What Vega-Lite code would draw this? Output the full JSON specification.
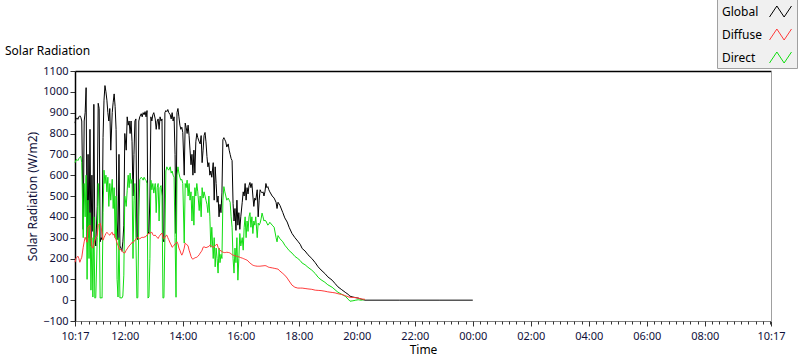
{
"$schema":"https://vega.github.io/schema/vega-lite/v6.json",
"width":696,"height":250,
"autosize":"none",
"padding":{"left":75,"top":71,"right":29,"bottom":40},
"background":"white",
"title":{"text":"Solar Radiation","anchor":"start","frame":"group","dx":-70,"dy":61,"offset":0,"fontSize":12,"fontWeight":"normal","color":"#000000","font":"Noto Sans"},
"data":{"values":[
{"time":617,"Global":850,"Diffuse":182,"Direct":660},
{"time":619,"Global":870,"Diffuse":200,"Direct":672},
{"time":621,"Global":875,"Diffuse":206,"Direct":675},
{"time":623,"Global":868,"Diffuse":211,"Direct":670},
{"time":625,"Global":880,"Diffuse":200,"Direct":680},
{"time":627,"Global":885,"Diffuse":182,"Direct":686},
{"time":629,"Global":878,"Diffuse":195,"Direct":690},
{"time":631,"Global":860,"Diffuse":206,"Direct":660},
{"time":634,"Global":340,"Diffuse":254,"Direct":300},
{"time":636,"Global":860,"Diffuse":280,"Direct":560},
{"time":638,"Global":900,"Diffuse":302,"Direct":400},
{"time":640,"Global":1020,"Diffuse":290,"Direct":600},
{"time":642,"Global":280,"Diffuse":278,"Direct":100},
{"time":644,"Global":700,"Diffuse":350,"Direct":480},
{"time":646,"Global":300,"Diffuse":355,"Direct":200},
{"time":648,"Global":820,"Diffuse":360,"Direct":420},
{"time":650,"Global":260,"Diffuse":300,"Direct":48},
{"time":652,"Global":600,"Diffuse":254,"Direct":300},
{"time":654,"Global":330,"Diffuse":250,"Direct":15},
{"time":656,"Global":940,"Diffuse":270,"Direct":400},
{"time":658,"Global":300,"Diffuse":288,"Direct":10},
{"time":660,"Global":260,"Diffuse":300,"Direct":12},
{"time":663,"Global":450,"Diffuse":312,"Direct":300},
{"time":665,"Global":945,"Diffuse":360,"Direct":560},
{"time":667,"Global":920,"Diffuse":365,"Direct":450},
{"time":669,"Global":280,"Diffuse":370,"Direct":10},
{"time":671,"Global":300,"Diffuse":350,"Direct":12},
{"time":673,"Global":290,"Diffuse":320,"Direct":10},
{"time":675,"Global":780,"Diffuse":288,"Direct":420},
{"time":677,"Global":960,"Diffuse":300,"Direct":624},
{"time":679,"Global":1030,"Diffuse":310,"Direct":560},
{"time":681,"Global":1000,"Diffuse":320,"Direct":600},
{"time":683,"Global":960,"Diffuse":326,"Direct":520},
{"time":685,"Global":900,"Diffuse":320,"Direct":590},
{"time":687,"Global":860,"Diffuse":315,"Direct":450},
{"time":689,"Global":920,"Diffuse":312,"Direct":560},
{"time":691,"Global":720,"Diffuse":320,"Direct":480},
{"time":694,"Global":900,"Diffuse":326,"Direct":580},
{"time":696,"Global":950,"Diffuse":312,"Direct":440},
{"time":698,"Global":990,"Diffuse":318,"Direct":540},
{"time":700,"Global":930,"Diffuse":300,"Direct":300},
{"time":702,"Global":820,"Diffuse":290,"Direct":500},
{"time":704,"Global":380,"Diffuse":274,"Direct":100},
{"time":706,"Global":290,"Diffuse":264,"Direct":15},
{"time":708,"Global":700,"Diffuse":250,"Direct":300},
{"time":710,"Global":260,"Diffuse":240,"Direct":10},
{"time":712,"Global":250,"Diffuse":245,"Direct":12},
{"time":714,"Global":235,"Diffuse":236,"Direct":10},
{"time":716,"Global":280,"Diffuse":230,"Direct":20},
{"time":718,"Global":360,"Diffuse":228,"Direct":120},
{"time":720,"Global":800,"Diffuse":226,"Direct":500},
{"time":723,"Global":720,"Diffuse":240,"Direct":450},
{"time":725,"Global":880,"Diffuse":246,"Direct":528},
{"time":727,"Global":840,"Diffuse":254,"Direct":600},
{"time":729,"Global":860,"Diffuse":260,"Direct":540},
{"time":731,"Global":800,"Diffuse":266,"Direct":610},
{"time":733,"Global":860,"Diffuse":270,"Direct":560},
{"time":735,"Global":760,"Diffuse":278,"Direct":580},
{"time":737,"Global":500,"Diffuse":275,"Direct":200},
{"time":739,"Global":700,"Diffuse":282,"Direct":480},
{"time":741,"Global":860,"Diffuse":288,"Direct":560},
{"time":743,"Global":870,"Diffuse":292,"Direct":300},
{"time":745,"Global":300,"Diffuse":296,"Direct":10},
{"time":747,"Global":290,"Diffuse":302,"Direct":12},
{"time":749,"Global":860,"Diffuse":298,"Direct":400},
{"time":751,"Global":880,"Diffuse":294,"Direct":580},
{"time":754,"Global":895,"Diffuse":300,"Direct":590},
{"time":756,"Global":880,"Diffuse":302,"Direct":585},
{"time":758,"Global":900,"Diffuse":300,"Direct":576},
{"time":760,"Global":890,"Diffuse":304,"Direct":590},
{"time":762,"Global":905,"Diffuse":302,"Direct":580},
{"time":764,"Global":880,"Diffuse":308,"Direct":575},
{"time":766,"Global":910,"Diffuse":312,"Direct":560},
{"time":768,"Global":330,"Diffuse":318,"Direct":10},
{"time":770,"Global":320,"Diffuse":320,"Direct":15},
{"time":772,"Global":500,"Diffuse":322,"Direct":200},
{"time":774,"Global":880,"Diffuse":324,"Direct":576},
{"time":776,"Global":860,"Diffuse":326,"Direct":530},
{"time":778,"Global":890,"Diffuse":314,"Direct":560},
{"time":780,"Global":900,"Diffuse":310,"Direct":514},
{"time":783,"Global":870,"Diffuse":312,"Direct":560},
{"time":785,"Global":820,"Diffuse":306,"Direct":420},
{"time":787,"Global":860,"Diffuse":302,"Direct":540},
{"time":789,"Global":870,"Diffuse":296,"Direct":560},
{"time":791,"Global":820,"Diffuse":305,"Direct":380},
{"time":793,"Global":880,"Diffuse":312,"Direct":540},
{"time":795,"Global":860,"Diffuse":318,"Direct":550},
{"time":797,"Global":870,"Diffuse":322,"Direct":500},
{"time":799,"Global":290,"Diffuse":300,"Direct":10},
{"time":801,"Global":280,"Diffuse":296,"Direct":12},
{"time":803,"Global":900,"Diffuse":300,"Direct":300},
{"time":805,"Global":910,"Diffuse":310,"Direct":620},
{"time":807,"Global":905,"Diffuse":312,"Direct":640},
{"time":809,"Global":915,"Diffuse":300,"Direct":630},
{"time":811,"Global":900,"Diffuse":290,"Direct":624},
{"time":814,"Global":890,"Diffuse":274,"Direct":640},
{"time":816,"Global":870,"Diffuse":265,"Direct":610},
{"time":818,"Global":900,"Diffuse":254,"Direct":620},
{"time":820,"Global":860,"Diffuse":258,"Direct":600},
{"time":822,"Global":880,"Diffuse":264,"Direct":590},
{"time":824,"Global":700,"Diffuse":270,"Direct":300},
{"time":826,"Global":320,"Diffuse":274,"Direct":14},
{"time":828,"Global":900,"Diffuse":280,"Direct":600},
{"time":830,"Global":920,"Diffuse":270,"Direct":640},
{"time":832,"Global":880,"Diffuse":250,"Direct":610},
{"time":834,"Global":840,"Diffuse":240,"Direct":590},
{"time":836,"Global":820,"Diffuse":226,"Direct":576},
{"time":838,"Global":830,"Diffuse":216,"Direct":580},
{"time":840,"Global":805,"Diffuse":226,"Direct":560},
{"time":843,"Global":600,"Diffuse":250,"Direct":274},
{"time":845,"Global":850,"Diffuse":274,"Direct":560},
{"time":847,"Global":830,"Diffuse":270,"Direct":540},
{"time":849,"Global":800,"Diffuse":265,"Direct":576},
{"time":851,"Global":840,"Diffuse":260,"Direct":500},
{"time":853,"Global":790,"Diffuse":240,"Direct":560},
{"time":855,"Global":720,"Diffuse":226,"Direct":480},
{"time":857,"Global":650,"Diffuse":210,"Direct":520},
{"time":859,"Global":700,"Diffuse":200,"Direct":380},
{"time":861,"Global":600,"Diffuse":197,"Direct":500},
{"time":863,"Global":720,"Diffuse":200,"Direct":360},
{"time":865,"Global":610,"Diffuse":203,"Direct":540},
{"time":867,"Global":760,"Diffuse":205,"Direct":500},
{"time":869,"Global":800,"Diffuse":206,"Direct":560},
{"time":871,"Global":780,"Diffuse":210,"Direct":520},
{"time":874,"Global":760,"Diffuse":218,"Direct":430},
{"time":876,"Global":750,"Diffuse":226,"Direct":500},
{"time":878,"Global":790,"Diffuse":232,"Direct":400},
{"time":880,"Global":660,"Diffuse":240,"Direct":540},
{"time":882,"Global":720,"Diffuse":254,"Direct":490},
{"time":884,"Global":790,"Diffuse":256,"Direct":520},
{"time":886,"Global":805,"Diffuse":254,"Direct":500},
{"time":888,"Global":760,"Diffuse":252,"Direct":480},
{"time":890,"Global":690,"Diffuse":254,"Direct":460},
{"time":892,"Global":640,"Diffuse":256,"Direct":420},
{"time":894,"Global":660,"Diffuse":258,"Direct":500},
{"time":896,"Global":600,"Diffuse":264,"Direct":400},
{"time":898,"Global":620,"Diffuse":262,"Direct":254},
{"time":900,"Global":590,"Diffuse":258,"Direct":350},
{"time":903,"Global":660,"Diffuse":254,"Direct":200},
{"time":905,"Global":480,"Diffuse":256,"Direct":300},
{"time":907,"Global":640,"Diffuse":262,"Direct":160},
{"time":909,"Global":560,"Diffuse":266,"Direct":250},
{"time":911,"Global":470,"Diffuse":269,"Direct":200},
{"time":913,"Global":500,"Diffuse":254,"Direct":130},
{"time":915,"Global":400,"Diffuse":246,"Direct":250},
{"time":917,"Global":460,"Diffuse":240,"Direct":180},
{"time":919,"Global":420,"Diffuse":236,"Direct":220},
{"time":921,"Global":515,"Diffuse":234,"Direct":200},
{"time":923,"Global":770,"Diffuse":230,"Direct":480},
{"time":925,"Global":780,"Diffuse":229,"Direct":545},
{"time":927,"Global":770,"Diffuse":228,"Direct":520},
{"time":929,"Global":760,"Diffuse":229,"Direct":500},
{"time":931,"Global":735,"Diffuse":230,"Direct":480},
{"time":934,"Global":750,"Diffuse":229,"Direct":490},
{"time":936,"Global":720,"Diffuse":228,"Direct":480},
{"time":938,"Global":700,"Diffuse":226,"Direct":470},
{"time":940,"Global":680,"Diffuse":222,"Direct":400},
{"time":942,"Global":670,"Diffuse":219,"Direct":350},
{"time":944,"Global":465,"Diffuse":216,"Direct":200},
{"time":946,"Global":380,"Diffuse":215,"Direct":130},
{"time":948,"Global":440,"Diffuse":213,"Direct":250},
{"time":950,"Global":335,"Diffuse":212,"Direct":180},
{"time":952,"Global":480,"Diffuse":211,"Direct":300},
{"time":954,"Global":360,"Diffuse":209,"Direct":96},
{"time":956,"Global":420,"Diffuse":208,"Direct":200},
{"time":958,"Global":340,"Diffuse":206,"Direct":320},
{"time":960,"Global":400,"Diffuse":204,"Direct":260},
{"time":963,"Global":470,"Diffuse":202,"Direct":300},
{"time":965,"Global":520,"Diffuse":200,"Direct":240},
{"time":967,"Global":500,"Diffuse":198,"Direct":350},
{"time":969,"Global":560,"Diffuse":196,"Direct":400},
{"time":971,"Global":480,"Diffuse":194,"Direct":300},
{"time":973,"Global":540,"Diffuse":192,"Direct":380},
{"time":975,"Global":510,"Diffuse":188,"Direct":330},
{"time":977,"Global":550,"Diffuse":183,"Direct":400},
{"time":979,"Global":565,"Diffuse":178,"Direct":420},
{"time":981,"Global":540,"Diffuse":175,"Direct":350},
{"time":983,"Global":560,"Diffuse":171,"Direct":400},
{"time":985,"Global":500,"Diffuse":168,"Direct":320},
{"time":987,"Global":450,"Diffuse":166,"Direct":380},
{"time":989,"Global":490,"Diffuse":165,"Direct":360},
{"time":991,"Global":480,"Diffuse":164,"Direct":400},
{"time":994,"Global":530,"Diffuse":163,"Direct":300},
{"time":996,"Global":400,"Diffuse":163,"Direct":370},
{"time":998,"Global":480,"Diffuse":163,"Direct":360},
{"time":1000,"Global":530,"Diffuse":163,"Direct":370},
{"time":1002,"Global":520,"Diffuse":164,"Direct":390},
{"time":1004,"Global":515,"Diffuse":164,"Direct":418},
{"time":1006,"Global":520,"Diffuse":165,"Direct":400},
{"time":1008,"Global":500,"Diffuse":165,"Direct":380},
{"time":1010,"Global":520,"Diffuse":166,"Direct":384},
{"time":1012,"Global":560,"Diffuse":165,"Direct":380},
{"time":1014,"Global":540,"Diffuse":163,"Direct":370},
{"time":1016,"Global":545,"Diffuse":160,"Direct":360},
{"time":1018,"Global":530,"Diffuse":158,"Direct":365},
{"time":1020,"Global":520,"Diffuse":157,"Direct":374},
{"time":1025,"Global":500,"Diffuse":155,"Direct":360},
{"time":1029,"Global":490,"Diffuse":153,"Direct":350},
{"time":1033,"Global":470,"Diffuse":151,"Direct":300},
{"time":1035,"Global":440,"Diffuse":150,"Direct":280},
{"time":1037,"Global":470,"Diffuse":149,"Direct":310},
{"time":1041,"Global":455,"Diffuse":140,"Direct":295},
{"time":1047,"Global":420,"Diffuse":128,"Direct":280},
{"time":1051,"Global":395,"Diffuse":120,"Direct":264},
{"time":1056,"Global":375,"Diffuse":106,"Direct":250},
{"time":1060,"Global":350,"Diffuse":92,"Direct":238},
{"time":1066,"Global":320,"Diffuse":72,"Direct":226},
{"time":1072,"Global":300,"Diffuse":62,"Direct":210},
{"time":1078,"Global":283,"Diffuse":58,"Direct":200},
{"time":1083,"Global":268,"Diffuse":58,"Direct":190},
{"time":1087,"Global":248,"Diffuse":58,"Direct":178},
{"time":1093,"Global":236,"Diffuse":56,"Direct":170},
{"time":1099,"Global":218,"Diffuse":54,"Direct":158},
{"time":1107,"Global":200,"Diffuse":52,"Direct":144},
{"time":1114,"Global":180,"Diffuse":48,"Direct":128},
{"time":1120,"Global":160,"Diffuse":47,"Direct":110},
{"time":1126,"Global":145,"Diffuse":46,"Direct":98},
{"time":1134,"Global":128,"Diffuse":43,"Direct":86},
{"time":1140,"Global":112,"Diffuse":40,"Direct":74},
{"time":1149,"Global":96,"Diffuse":37,"Direct":62},
{"time":1155,"Global":80,"Diffuse":35,"Direct":50},
{"time":1161,"Global":64,"Diffuse":31,"Direct":38},
{"time":1169,"Global":50,"Diffuse":27,"Direct":28},
{"time":1176,"Global":38,"Diffuse":22,"Direct":19},
{"time":1182,"Global":28,"Diffuse":16,"Direct":5},
{"time":1186,"Global":19,"Diffuse":14,"Direct":-5},
{"time":1192,"Global":15,"Diffuse":13,"Direct":-3},
{"time":1198,"Global":12,"Diffuse":12,"Direct":0},
{"time":1203,"Global":10,"Diffuse":10,"Direct":2},
{"time":1209,"Global":5,"Diffuse":6,"Direct":0},
{"time":1217,"Global":0,"Diffuse":4,"Direct":3},
{"time":1289,"Global":0},
{"time":1372,"Global":0},
{"time":1440,"Global":0}
]},
"transform":[{"fold":["Global","Diffuse","Direct"],"as":["series","value"]}],
"encoding":{
"color":{"field":"series","type":"nominal","scale":{"domain":["Global","Diffuse","Direct"],"range":["#000000","#ff3b3b","#11dd11"]},
"legend":{"title":null,"orient":"none","legendX":642,"legendY":-74,"direction":"vertical","fillColor":"#f0f0f0","strokeColor":"#a0a0a0","padding":3,"symbolType":"M-1,0.5L-0.33,-0.5L0.33,0.5L1,-0.5","symbolSize":484,"symbolStrokeWidth":1,"symbolFillColor":"transparent","symbolOffset":49,"labelAlign":"left","labelOffset":-70,"labelFontSize":12,"labelFont":"Noto Sans","labelColor":"#000000","rowPadding":4}}
},
"layer":[
{"transform":[{"filter":"datum.series === 'Global'"}],
 "mark":{"type":"line","strokeWidth":1},
 "encoding":{
  "x":{"field":"time","type":"quantitative","scale":{"domain":[617,2057],"nice":false,"zero":false},
   "axis":{"orient":"bottom","values":[617,720,840,960,1080,1200,1320,1440,1560,1680,1800,1920,2057],"labelExpr":"format(floor(datum.value/60)%24,'02d')+':'+format(datum.value%60,'02d')","tickSize":5,"tickColor":"#333333","domainColor":"#808080","grid":false,"title":"Time","titleFontWeight":"normal","titleFontSize":12,"titleFont":"Noto Sans","titleColor":"#000000","titlePadding":3,"labelFont":"Noto Sans","labelFontSize":11,"labelColor":"#10103a","labelPadding":4,"labelFlush":false,"labelOverlap":false}},
  "y":{"field":"value","type":"quantitative","scale":{"domain":[-100,1100],"nice":false,"zero":false},
   "axis":{"orient":"left","values":[-100,0,100,200,300,400,500,600,700,800,900,1000,1100],"format":"d","tickSize":5,"tickColor":"#333333","domainColor":"#000000","domainWidth":1.5,"grid":false,"title":"Solar Radiation (W/m2)","titleFontWeight":"normal","titleFontSize":12,"titleFont":"Noto Sans","titleColor":"#10103a","titlePadding":3,"labelFont":"Noto Sans","labelFontSize":11,"labelColor":"#10103a","labelPadding":2}}
 }},
{"transform":[{"filter":"datum.series === 'Direct'"}],
 "mark":{"type":"line","strokeWidth":1},
 "encoding":{
  "x":{"field":"time","type":"quantitative","scale":{"domain":[617,2057],"nice":false,"zero":false},
   "axis":{"orient":"bottom","values":[630,645,660,675,690,705,720,735,750,765,780,795,810,825,840,855,870,885,900,915,930,945,960,975,990,1005,1020,1035,1050,1065,1080,1095,1110,1125,1140,1155,1170,1185,1200,1215,1230,1245,1260,1275,1290,1305,1320,1335,1350,1365,1380,1395,1410,1425,1440,1455,1470,1485,1500,1515,1530,1545,1560,1575,1590,1605,1620,1635,1650,1665,1680,1695,1710,1725,1740,1755,1770,1785,1800,1815,1830,1845,1860,1875,1890,1905,1920,1935,1950,1965,1980,1995,2010,2025,2040,2055],"tickSize":3,"tickColor":"#333333","domain":false,"labels":false,"grid":false,"title":null}},
  "y":{"field":"value","type":"quantitative","scale":{"domain":[-100,1100],"nice":false,"zero":false},
   "axis":{"orient":"right","domainColor":"#a0a0a0","ticks":false,"labels":false,"grid":false,"title":null}}
 }},
{"transform":[{"filter":"datum.series === 'Diffuse'"}],
 "mark":{"type":"line","strokeWidth":1},
 "encoding":{
  "x":{"field":"time","type":"quantitative","scale":{"domain":[617,2057],"nice":false,"zero":false},
   "axis":{"orient":"top","domainColor":"#000000","domainWidth":1.5,"ticks":false,"labels":false,"grid":false,"title":null}},
  "y":{"field":"value","type":"quantitative","scale":{"domain":[-100,1100],"nice":false,"zero":false},"axis":null}
 }}
],
"resolve":{"axis":{"x":"independent","y":"independent"}},
"config":{"view":{"stroke":null},"font":"Noto Sans"}
}
